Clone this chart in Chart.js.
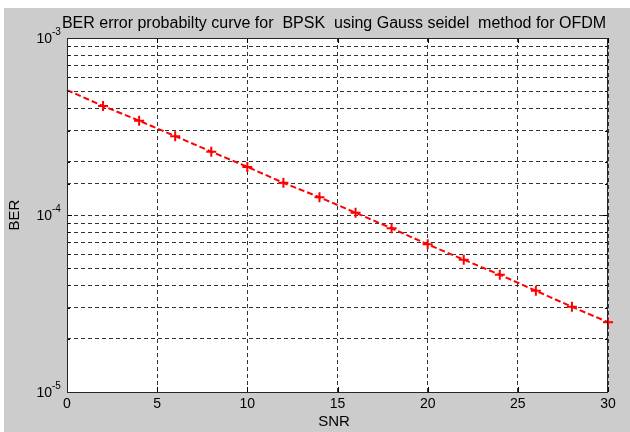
<!DOCTYPE html>
<html>
<head>
<meta charset="utf-8">
<script src="https://cdn.jsdelivr.net/npm/chart.js@4.4.1/dist/chart.umd.min.js"></script>
<style>
  html, body { margin: 0; padding: 0; background: #ffffff; }
  #wrap { width: 630px; height: 432px; }
</style>
</head>
<body>
<div id="wrap"><canvas id="ber-chart" width="630" height="432"></canvas></div>
<script>
/* Values */
const snr = [0, 2, 4, 6, 8, 10, 12, 14, 16, 18, 20, 22, 24, 26, 28, 30]
const ber = [5.08e-4, 4.13e-4, 3.41e-4, 2.79e-4, 2.28e-4, 1.87e-4, 1.52e-4, 1.26e-4,
             1.03e-4, 8.41e-5, 6.83e-5, 5.59e-5, 4.60e-5, 3.73e-5, 3.03e-5, 2.48e-5]
const xTicks = [0, 5, 10, 15, 20, 25, 30]
const yDecades = [1e-5, 1e-4, 1e-3]
const yExponents = ["-5", "-4", "-3"]

const titleText = "BER error probabilty curve for  BPSK  using Gauss seidel  method for OFDM"
const xTitle = "SNR"
const yTitle = "BER"

const fontFamily = "'Liberation Sans', Arial, sans-serif"

/* Figure background: gray frame with white axes */
const figureBackground = {
    id: "figureBackground",
    beforeDraw (chart) {
        const { ctx, chartArea } = chart
        ctx.save()
        ctx.fillStyle = "#ffffff"
        ctx.fillRect(0, 0, chart.width, chart.height)
        ctx.fillStyle = "#cccccc"
        ctx.fillRect(4, 8, chart.width - 4, chart.height - 8)
        ctx.fillStyle = "#ffffff"
        ctx.fillRect(chartArea.left, chartArea.top, chartArea.right - chartArea.left, chartArea.bottom - chartArea.top)
        ctx.restore()
    }
}

/* Box, inward ticks and texts, MATLAB style */
const matlabDecor = {
    id: "matlabDecor",
    afterDraw (chart) {
        const { ctx, chartArea } = chart
        const xScale = chart.scales.x
        const yScale = chart.scales.y
        const { left, right, top, bottom } = chartArea

        ctx.save()
        ctx.strokeStyle = "#000000"
        ctx.lineWidth = 1
        ctx.setLineDash([])

        // inward ticks
        ctx.beginPath()
        for (const t of xTicks) {
            const px = Math.round(xScale.getPixelForValue(t)) + 0.5
            ctx.moveTo(px, bottom); ctx.lineTo(px, bottom - 5)
            ctx.moveTo(px, top); ctx.lineTo(px, top + 5)
        }
        for (const tick of yScale.ticks) {
            const py = Math.round(yScale.getPixelForValue(tick.value)) + 0.5
            const len = yDecades.includes(tick.value) ? 5 : 3
            ctx.moveTo(left, py); ctx.lineTo(left + len, py)
            ctx.moveTo(right, py); ctx.lineTo(right - len, py)
        }
        ctx.stroke()

        // axes box
        ctx.strokeStyle = "#262626"
        ctx.strokeRect(left + 0.5, top + 0.5, right - left - 1, bottom - top)

        // y labels 10^n
        ctx.fillStyle = "#000000"
        yDecades.forEach((v, i) => {
            const py = yScale.getPixelForValue(v)
            ctx.font = "14px " + fontFamily
            ctx.textAlign = "right"
            ctx.textBaseline = "middle"
            ctx.fillText("10", 52, py + 1)
            ctx.font = "10px " + fontFamily
            ctx.textAlign = "left"
            ctx.fillText(yExponents[i], 52, py - 6)
        })

        // title
        ctx.font = "16px " + fontFamily
        ctx.textAlign = "center"
        ctx.textBaseline = "alphabetic"
        ctx.fillStyle = "#000000"
        ctx.fillText(titleText, 334, 28)

        // x axis title
        ctx.font = "15px " + fontFamily
        ctx.textBaseline = "middle"
        ctx.fillText(xTitle, 334, 422)

        // y axis title
        ctx.translate(15, (top + bottom) / 2)
        ctx.rotate(-Math.PI / 2)
        ctx.fillText(yTitle, 0, 0)
        ctx.restore()
    }
}

const data = {
    datasets: [{
        label: "BER",
        data: snr.map((s, i) => ({ x: s, y: ber[i] })),
        borderColor: "#ff0000",
        backgroundColor: "#ff0000",
        borderWidth: 2,
        borderDash: [6, 3],
        pointStyle: "cross",
        pointRadius: snr.map((s, i) => i === 0 ? 0 : 5),
        pointBorderWidth: 2,
        pointBorderColor: "#ff0000",
        tension: 0,
        clip: false
    }]
}

const config = {
    type: "line",
    data: data,
    options: {
        responsive: false,
        animation: false,
        layout: { padding: { left: 0, top: 38, right: 22, bottom: 0 } },
        plugins: {
            legend: { display: false },
            title: { display: false },
            tooltip: { enabled: false }
        },
        scales: {
            x: {
                type: "linear",
                min: 0,
                max: 30,
                afterFit: (scale) => { scale.height = 40 },
                afterBuildTicks: (scale) => { scale.ticks = xTicks.map(v => ({ value: v })) },
                ticks: {
                    color: "#000000",
                    font: { family: fontFamily, size: 14 },
                    padding: 4,
                    maxRotation: 0
                },
                grid: {
                    color: "#333333",
                    lineWidth: 1,
                    drawTicks: false
                },
                border: { display: false, dash: [4, 3] }
            },
            y: {
                type: "logarithmic",
                min: 1e-5,
                max: 1e-3,
                afterFit: (scale) => { scale.width = 67 },
                ticks: { display: false },
                grid: {
                    color: "#333333",
                    lineWidth: 1,
                    drawTicks: false
                },
                border: { display: false, dash: [4, 3] }
            }
        }
    },
    plugins: [figureBackground, matlabDecor]
}

const berChart = new Chart(document.querySelector("#ber-chart"), config)
</script>
</body>
</html>
